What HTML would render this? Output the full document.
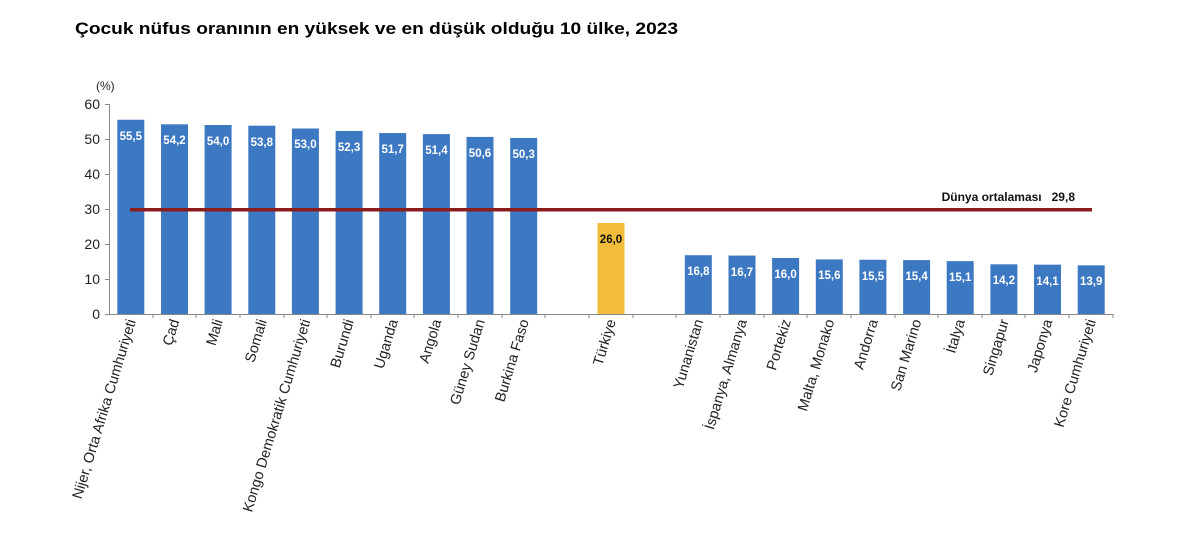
<!DOCTYPE html>
<html><head><meta charset="utf-8"><style>
body{margin:0;background:#fff;}
svg{display:block;font-family:"Liberation Sans",Arial,sans-serif;}
</style></head><body>
<svg width="1200" height="534" viewBox="0 0 1200 534">
<text x="75" y="34" font-size="17" font-weight="bold" fill="#000" textLength="603" lengthAdjust="spacingAndGlyphs">Çocuk nüfus oranının en yüksek ve en düşük olduğu 10 ülke, 2023</text>
<text x="96" y="90" font-size="12" fill="#222">(%)</text>
<g font-size="14" fill="#222" text-anchor="end">
<text x="100" y="319">0</text><text x="100" y="284">10</text><text x="100" y="249">20</text>
<text x="100" y="214">30</text><text x="100" y="179">40</text><text x="100" y="144">50</text><text x="100" y="109">60</text>
</g>
<g stroke="#888" stroke-width="1">
<line x1="109.5" y1="104" x2="109.5" y2="314"/>
<line x1="105" y1="104.5" x2="109" y2="104.5"/><line x1="105" y1="139.5" x2="109" y2="139.5"/>
<line x1="105" y1="174.5" x2="109" y2="174.5"/><line x1="105" y1="209.5" x2="109" y2="209.5"/>
<line x1="105" y1="244.5" x2="109" y2="244.5"/><line x1="105" y1="279.5" x2="109" y2="279.5"/>
<line x1="105" y1="314.5" x2="1113" y2="314.5"/>
<line x1="153" y1="314" x2="153" y2="318"/><line x1="196" y1="314" x2="196" y2="318"/>
<line x1="240" y1="314" x2="240" y2="318"/><line x1="284" y1="314" x2="284" y2="318"/>
<line x1="327" y1="314" x2="327" y2="318"/><line x1="371" y1="314" x2="371" y2="318"/>
<line x1="414" y1="314" x2="414" y2="318"/><line x1="458" y1="314" x2="458" y2="318"/>
<line x1="502" y1="314" x2="502" y2="318"/><line x1="545" y1="314" x2="545" y2="318"/>
<line x1="589" y1="314" x2="589" y2="318"/><line x1="633" y1="314" x2="633" y2="318"/>
<line x1="676" y1="314" x2="676" y2="318"/><line x1="720" y1="314" x2="720" y2="318"/>
<line x1="764" y1="314" x2="764" y2="318"/><line x1="807" y1="314" x2="807" y2="318"/>
<line x1="851" y1="314" x2="851" y2="318"/><line x1="895" y1="314" x2="895" y2="318"/>
<line x1="938" y1="314" x2="938" y2="318"/><line x1="982" y1="314" x2="982" y2="318"/>
<line x1="1025" y1="314" x2="1025" y2="318"/><line x1="1069" y1="314" x2="1069" y2="318"/>
<line x1="1113" y1="314" x2="1113" y2="318"/>
</g>
<g fill="#3d78c2">
<rect x="117.3" y="119.75" width="27" height="194.25"/>
<rect x="161" y="124.3" width="27" height="189.7"/>
<rect x="204.6" y="125" width="27" height="189"/>
<rect x="248.3" y="125.7" width="27" height="188.3"/>
<rect x="291.9" y="128.5" width="27" height="185.5"/>
<rect x="335.6" y="130.95" width="27" height="183.05"/>
<rect x="379.2" y="133.05" width="27" height="180.95"/>
<rect x="422.9" y="134.1" width="27" height="179.9"/>
<rect x="466.5" y="136.9" width="27" height="177.1"/>
<rect x="510.2" y="137.95" width="27" height="176.05"/>
<rect x="684.8" y="255.2" width="27" height="58.8"/>
<rect x="728.5" y="255.55" width="27" height="58.45"/>
<rect x="772.1" y="258" width="27" height="56"/>
<rect x="815.8" y="259.4" width="27" height="54.6"/>
<rect x="859.4" y="259.75" width="27" height="54.25"/>
<rect x="903.1" y="260.1" width="27" height="53.9"/>
<rect x="946.7" y="261.15" width="27" height="52.85"/>
<rect x="990.4" y="264.3" width="27" height="49.7"/>
<rect x="1034" y="264.65" width="27" height="49.35"/>
<rect x="1077.7" y="265.35" width="27" height="48.65"/>
</g>
<rect x="597.5" y="223" width="27" height="91" fill="#f2bd3c"/>
<g font-size="11.5" font-weight="bold" fill="#fff" text-anchor="middle">
<text x="130.8" y="140">55,5</text><text x="174.5" y="144">54,2</text><text x="218.1" y="145">54,0</text>
<text x="261.8" y="146">53,8</text><text x="305.4" y="148">53,0</text><text x="349.1" y="151">52,3</text>
<text x="392.7" y="153">51,7</text><text x="436.4" y="154">51,4</text><text x="480" y="157">50,6</text>
<text x="523.7" y="158">50,3</text>
<text x="611" y="243" fill="#111">26,0</text>
<text x="698.3" y="275">16,8</text><text x="742" y="276">16,7</text><text x="785.6" y="278">16,0</text>
<text x="829.3" y="279">15,6</text><text x="872.9" y="280">15,5</text><text x="916.6" y="280">15,4</text>
<text x="960.2" y="281">15,1</text><text x="1003.9" y="284">14,2</text><text x="1047.5" y="285">14,1</text>
<text x="1091.2" y="285">13,9</text>
</g>
<g font-size="14.5" fill="#222" text-anchor="end">
<text transform="translate(136,321) rotate(-73)">Nijer, Orta Afrika Cumhuriyeti</text>
<text transform="translate(179.5,321) rotate(-73)">Çad</text>
<text transform="translate(223,321) rotate(-73)">Mali</text>
<text transform="translate(267,321) rotate(-73)">Somali</text>
<text transform="translate(310.5,321) rotate(-73)">Kongo Demokratik Cumhuriyeti</text>
<text transform="translate(354,321) rotate(-73)">Burundi</text>
<text transform="translate(398,321) rotate(-73)">Uganda</text>
<text transform="translate(441.5,321) rotate(-73)">Angola</text>
<text transform="translate(485,321) rotate(-73)">Güney Sudan</text>
<text transform="translate(529,321) rotate(-73)">Burkina Faso</text>
<text transform="translate(616,321) rotate(-73)">Türkiye</text>
<text transform="translate(703.5,321) rotate(-73)">Yunanistan</text>
<text transform="translate(747,321) rotate(-73)">İspanya, Almanya</text>
<text transform="translate(791,321) rotate(-73)">Portekiz</text>
<text transform="translate(834.5,321) rotate(-73)">Malta, Monako</text>
<text transform="translate(878,321) rotate(-73)">Andorra</text>
<text transform="translate(921.5,321) rotate(-73)">San Marino</text>
<text transform="translate(965,321) rotate(-73)">İtalya</text>
<text transform="translate(1009,321) rotate(-73)">Singapur</text>
<text transform="translate(1052.5,321) rotate(-73)">Japonya</text>
<text transform="translate(1096,321) rotate(-73)">Kore Cumhuriyeti</text>
</g>
<line x1="130" y1="209.7" x2="1092" y2="209.7" stroke="#8b1c1c" stroke-width="3.5"/>
<text x="1075" y="201" font-size="12" font-weight="bold" fill="#111" text-anchor="end" xml:space="preserve">Dünya ortalaması   29,8</text>
</svg>
</body></html>
